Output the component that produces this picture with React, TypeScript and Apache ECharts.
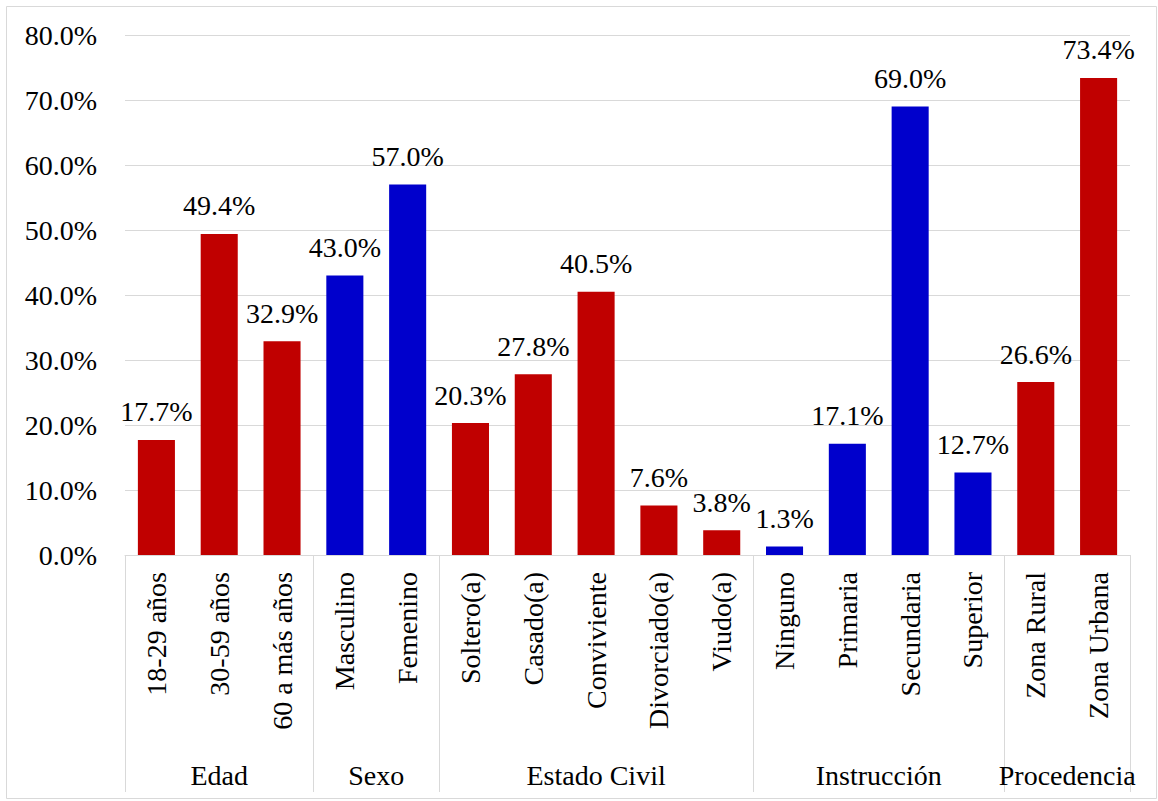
import React, { useEffect, useRef } from "react";
import * as echarts from "echarts";

// Categories, grouped by variable
const categories = [
  "18-29 años", "30-59 años", "60 a más años",
  "Masculino", "Femenino",
  "Soltero(a)", "Casado(a)", "Conviviente", "Divorciado(a)", "Viudo(a)",
  "Ninguno", "Primaria", "Secundaria", "Superior",
  "Zona Rural", "Zona Urbana",
];
const values = [17.7, 49.4, 32.9, 43.0, 57.0, 20.3, 27.8, 40.5, 7.6, 3.8, 1.3, 17.1, 69.0, 12.7, 26.6, 73.4];

// Groups: name and number of categories in each
const groupNames = ["Edad", "Sexo", "Estado Civil", "Instrucción", "Procedencia"];
const groupSizes = [3, 2, 5, 4, 2];
const groupColors = ["#C00000", "#0000CC", "#C00000", "#0000CC", "#C00000"];

const yTicks = { min: 0, max: 80, interval: 10 };

const FONT = "Liberation Serif";

export default function App() {
  const ref = useRef<HTMLDivElement>(null);

  useEffect(() => {
    if (!ref.current) return;
    const chart = echarts.init(ref.current, undefined, { renderer: "svg" });

    // boundaries between groups and group centres, in category units
    const boundaries: number[] = [0];
    const centres: number[] = [];
    const barColors: string[] = [];
    groupSizes.forEach((n, gi) => {
      const start = boundaries[boundaries.length - 1];
      centres.push(start + n / 2);
      boundaries.push(start + n);
      for (let i = 0; i < n; i++) barColors.push(groupColors[gi]);
    });
    const total = boundaries[boundaries.length - 1];

    chart.setOption({
      animation: false,
      backgroundColor: "#ffffff",
      textStyle: { fontFamily: FONT },
      graphic: [
        {
          type: "rect",
          shape: { x: 6.5, y: 6.5, width: 1150, height: 792 },
          style: { fill: "none", stroke: "#D9D9D9", lineWidth: 1 },
          silent: true,
        },
      ],
      grid: { left: 125, right: 28, top: 35, bottom: 246, containLabel: false },
      xAxis: [
        {
          type: "category",
          data: categories,
          position: "bottom",
          axisLine: { show: true, lineStyle: { color: "#D9D9D9", width: 1 } },
          axisTick: { show: false },
          axisLabel: {
            rotate: 90,
            margin: 17,
            interval: 0,
            color: "#000",
            fontSize: 28,
            fontFamily: FONT,
          },
        },
        {
          // group axis: separators between groups and the group names
          type: "value",
          position: "bottom",
          min: 0,
          max: total,
          axisLine: { show: false },
          splitLine: { show: false },
          axisTick: {
            show: true,
            length: 237,
            customValues: boundaries,
            lineStyle: { color: "#D9D9D9", width: 1 },
          },
          axisLabel: {
            show: true,
            customValues: centres,
            margin: 206,
            color: "#000",
            fontSize: 28,
            fontFamily: FONT,
            formatter: (v: number) => groupNames[centres.indexOf(v)] ?? "",
          },
        },
      ],
      yAxis: {
        type: "value",
        min: yTicks.min,
        max: yTicks.max,
        interval: yTicks.interval,
        axisLine: { show: false },
        axisTick: { show: false },
        splitLine: { lineStyle: { color: "#D9D9D9", width: 1 } },
        axisLabel: {
          margin: 28,
          color: "#000",
          fontSize: 28,
          fontFamily: FONT,
          formatter: (v: number) => v.toFixed(1) + "%",
        },
      },
      series: [
        {
          type: "bar",
          xAxisIndex: 0,
          barWidth: "59%",
          data: values.map((v, i) => ({ value: v, itemStyle: { color: barColors[i] } })),
          label: {
            show: true,
            position: "top",
            distance: 14,
            color: "#000",
            fontSize: 28,
            fontFamily: FONT,
            formatter: (p: any) => Number(p.value).toFixed(1) + "%",
          },
        },
      ],
    });

    return () => chart.dispose();
  }, []);

  return (
    <div
      ref={ref}
      style={{ position: "fixed", left: 0, top: 0, width: 1158, height: 801 }}
    />
  );
}
